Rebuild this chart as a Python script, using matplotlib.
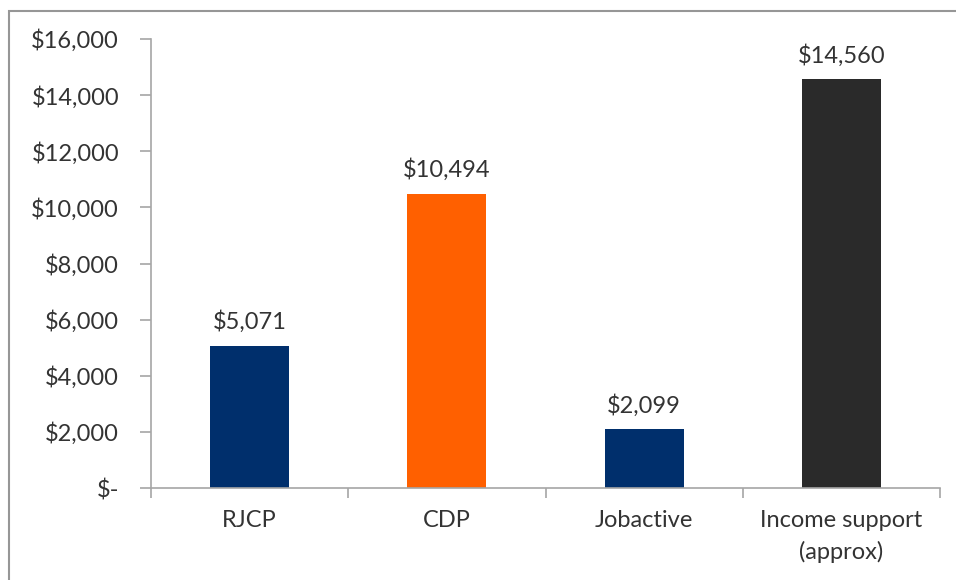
import matplotlib.pyplot as plt
from matplotlib.patches import Rectangle
from matplotlib.ticker import FixedLocator, FuncFormatter

plt.rcParams['font.family'] = ['Lato', 'DejaVu Sans']

categories = ['RJCP', 'CDP', 'Jobactive', 'Income support\n(approx)']
values = [5071, 10494, 2099, 14560]
colors = ['#002F6C', '#FF6000', '#002F6C', '#2A2A2A']
yticks = [0, 2000, 4000, 6000, 8000, 10000, 12000, 14000, 16000]

grey = '#A6A6A6'
text_col = '#333333'
fs = 17

fig = plt.figure(figsize=(9.56, 5.8), dpi=100)
W, H = 956, 580

# chart border (cropped on right and bottom)
fig.patches.append(Rectangle((9 / W, -0.1), 1.2, 1 - 11 / H + 0.1,
                             transform=fig.transFigure, fill=False,
                             edgecolor='#969696', linewidth=1.5))

ax = fig.add_axes([151 / W, 1 - 488 / H, (940 - 151) / W, (488 - 39) / H])

x = range(len(categories))
ax.bar(x, values, width=0.4, color=colors)

for xi, v in zip(x, values):
    ax.annotate(f'${v:,}', (xi, v), xytext=(0, 9), textcoords='offset points',
                ha='center', va='bottom', fontsize=fs, color=text_col)

ax.set_xlim(-0.5, len(categories) - 0.5)
ax.set_ylim(0, 16000)

ax.yaxis.set_major_locator(FixedLocator(yticks))
ax.yaxis.set_major_formatter(FuncFormatter(lambda v, p: '$-' if v == 0 else f'${v:,.0f}'))

# category boundary ticks, labels at centres
ax.xaxis.set_major_locator(FixedLocator([i - 0.5 for i in range(len(categories) + 1)]))
ax.xaxis.set_major_formatter(FuncFormatter(lambda v, p: ''))
ax.xaxis.set_minor_locator(FixedLocator(list(x)))
ax.set_xticklabels(categories, minor=True, linespacing=1.55)

ax.tick_params(axis='x', which='major', direction='out', length=7, color=grey, width=1.2)
ax.tick_params(axis='x', which='minor', length=0, pad=16, labelsize=fs, labelcolor=text_col)
ax.tick_params(axis='y', direction='out', length=8, color=grey, width=1.2,
               pad=15, labelsize=fs, labelcolor=text_col)

for s in ['top', 'right']:
    ax.spines[s].set_visible(False)
for s in ['left', 'bottom']:
    ax.spines[s].set_color(grey)
    ax.spines[s].set_linewidth(1.2)

fig.savefig('out.png', dpi=100)
